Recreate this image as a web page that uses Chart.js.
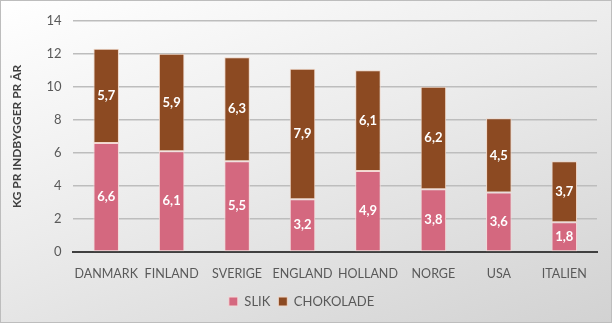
<!DOCTYPE html>
<html>
<head>
<meta charset="utf-8">
<script src="https://cdn.jsdelivr.net/npm/chart.js@4/dist/chart.umd.min.js"></script>
<style>
  html, body { margin: 0; padding: 0; }
  #wrap {
    width: 610px; height: 321px;
    border: 1px solid #bdbdbd;
    background: linear-gradient(160deg, #ffffff 0%, #ececec 45%, #d2d2d2 100%);
    position: relative;
  }
  canvas { display: block; }
</style>
</head>
<body>
<div id="wrap"><canvas id="chart" width="610" height="321"></canvas></div>
<script>
// Slik og chokolade pr. indbygger
const lande = ['DANMARK', 'FINLAND', 'SVERIGE', 'ENGLAND', 'HOLLAND', 'NORGE', 'USA', 'ITALIEN'];
const slik = [6.6, 6.1, 5.5, 3.2, 4.9, 3.8, 3.6, 1.8];
const chokolade = [5.7, 5.9, 6.3, 7.9, 6.1, 6.2, 4.5, 3.7];
const yTicks = [0, 2, 4, 6, 8, 10, 12, 14];

const FONT = 'Lato, "Open Sans", sans-serif';

// white value labels in the middle of each segment
const barLabels = {
  id: 'barLabels',
  afterDatasetsDraw(chart) {
    const { ctx } = chart;
    ctx.save();
    ctx.font = 'bold 13px ' + FONT;
    ctx.fillStyle = '#ffffff';
    ctx.textAlign = 'center';
    ctx.textBaseline = 'middle';
    chart.data.datasets.forEach((ds, i) => {
      chart.getDatasetMeta(i).data.forEach((bar, j) => {
        const mid = (bar.y + bar.base) / 2;
        ctx.fillText(ds.data[j].toFixed(1).replace('.', ','), bar.x, mid);
      });
    });
    ctx.restore();
  }
};

new Chart(document.getElementById('chart'), {
  type: 'bar',
  data: {
    labels: lande,
    datasets: [
      {
        label: 'SLIK',
        data: slik,
        backgroundColor: '#D4687F',
        borderColor: '#F4D9D9',
        borderWidth: 1,
        borderSkipped: false,
        categoryPercentage: 1,
        barPercentage: 0.39,
      },
      {
        label: 'CHOKOLADE',
        data: chokolade,
        backgroundColor: '#8C4A22',
        borderColor: '#F0D7C8',
        borderWidth: 1,
        borderSkipped: false,
        categoryPercentage: 1,
        barPercentage: 0.39,
      }
    ]
  },
  options: {
    responsive: false,
    animation: false,
    layout: { padding: { left: 5, right: 14, top: -4, bottom: 4 } },
    plugins: {
      legend: {
        position: 'bottom',
        labels: {
          boxWidth: 9, boxHeight: 9, padding: 8,
          color: '#595959',
          font: { family: FONT, size: 13 }
        }
      },
      tooltip: { enabled: false }
    },
    scales: {
      x: {
        stacked: true,
        grid: { display: false },
        border: { color: '#404040', width: 2 },
        ticks: { color: '#595959', font: { family: FONT, size: 12.5 }, maxRotation: 0, autoSkip: false, padding: 6 }
      },
      y: {
        stacked: true,
        min: 0, max: 14,
        afterBuildTicks: axis => { axis.ticks = yTicks.map(v => ({ value: v })); },
        grid: { color: '#bdbdbd', lineWidth: 1.5, drawTicks: false },
        border: { display: false },
        ticks: { color: '#595959', font: { family: FONT, size: 13 }, padding: 12 },
        title: {
          display: true,
          text: 'KG PR INDBYGGER PR ÅR',
          color: '#404040',
          font: { family: FONT, size: 12, weight: 'bold' },
          padding: { bottom: 10 }
        }
      }
    }
  },
  plugins: [barLabels]
});
</script>
</body>
</html>
